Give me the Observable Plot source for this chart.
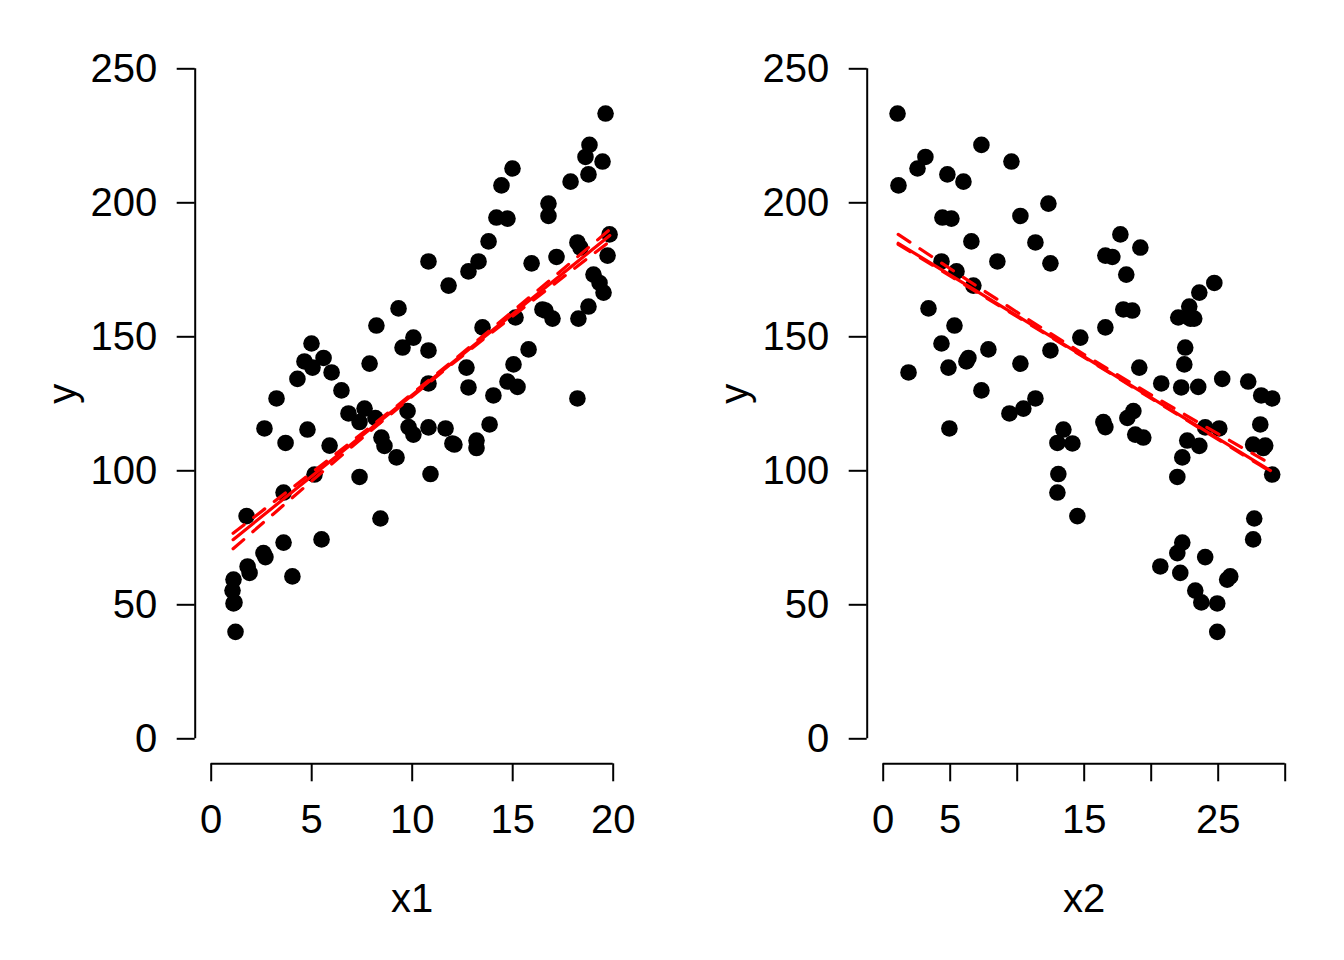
<!DOCTYPE html>
<html><head><meta charset="utf-8">
<script src="https://cdn.jsdelivr.net/npm/d3@7"></script>
<script src="https://cdn.jsdelivr.net/npm/@observablehq/plot@0.6"></script>
<style>
body{margin:0;background:#fff}
#c{display:flex;width:1344px;height:960px;background:#fff}
</style>
</head><body><div id="c"></div>
<script>
const x1 = [19.62,18.82,18.62,19.47,14.99,18.77,17.88,14.44,16.78,16.78,14.19,14.74,19.82,13.80,18.22,18.37,19.72,17.18,10.81,13.30,
  15.94,12.80,19.02,19.32,11.81,19.52,18.77,9.32,16.48,16.63,15.14,18.27,16.98,8.22,13.50,10.06,4.99,9.52,15.79,10.81,
  5.59,4.64,7.88,15.04,5.04,12.70,5.99,4.29,14.74,10.81,15.24,12.80,6.48,14.04,3.25,18.22,7.63,9.77,6.83,8.17,
  7.38,13.85,9.82,10.81,2.65,11.66,4.79,10.06,8.47,13.20,3.70,12.00,12.10,5.89,8.62,13.20,9.22,10.91,5.14,7.38,
  3.60,1.76,8.42,5.49,3.60,2.60,2.70,1.81,1.91,4.04,1.11,1.06,1.16,1.11,1.21];
const x2 = [1.07,7.33,3.15,9.57,2.56,4.79,5.99,1.14,12.33,10.24,4.42,5.09,17.70,6.58,11.36,19.19,16.58,17.10,4.35,8.52,
  12.48,5.47,18.14,24.71,6.73,23.59,22.84,3.38,17.92,18.59,22.02,23.21,22.92,5.32,16.58,14.71,4.35,22.54,7.85,12.48,
  6.36,6.21,10.24,22.47,4.87,19.11,1.89,25.30,27.24,20.75,23.51,22.24,7.33,28.21,11.36,29.03,10.46,18.67,9.42,18.22,
  16.43,28.14,16.58,24.03,4.94,25.08,13.45,18.81,19.41,22.69,13.00,14.12,27.61,28.51,23.59,28.36,22.32,13.07,29.03,21.95,
  13.00,14.49,27.69,27.61,22.32,21.95,24.03,20.68,22.17,25.90,25.67,23.29,23.74,24.93,24.93];
const y = [233.3,221.6,217.1,215.4,212.8,210.6,207.9,206.5,199.7,195.1,194.5,194.1,188.2,185.6,185.2,183.3,180.3,179.8,178.1,178.1,
  177.4,174.4,173.2,170.1,169.1,166.5,161.3,160.6,160.2,159.8,157.2,156.8,156.8,154.2,153.5,149.7,147.5,146.0,145.3,144.9,
  142.1,140.8,140.0,139.7,138.5,138.5,136.7,134.3,133.3,132.6,131.3,131.1,130.0,128.1,127.0,127.0,123.2,122.3,121.4,119.7,
  118.2,117.3,116.3,116.2,115.8,115.8,115.4,113.5,112.4,111.3,110.4,110.2,109.8,109.4,109.3,108.5,105.0,98.8,98.6,97.7,
  91.9,83.1,82.2,74.4,73.2,69.3,67.8,64.3,61.9,60.6,59.4,55.3,50.9,50.5,39.9];

// Fitted lines (solid) and dashed companion lines
const fit1X = [1.09, 19.83], fit1Y = [74.3, 187.8];
const band1X = [1.09, 10.5, 19.83], band1Lo = [70.9, 130.8, 185.6], band1Hi = [76.7, 131.8, 190.0];
const fit2X = [1.12, 28.9], fit2Y = [184.9, 100.1];
const band2X = [1.12, 15.0, 28.9], band2Lo = [184.5, 142.3, 99.7], band2Hi = [188.2, 143.4, 102.6];

// Axis ticks
const yTicks = [0, 50, 100, 150, 200, 250];
const x1Ticks = [0, 5, 10, 15, 20], x1Labels = [0, 5, 10, 15, 20];
const x2Ticks = [0, 5, 10, 15, 20, 25, 30], x2Labels = [0, 5, 15, 25];

const rows = (xs, ys) => xs.map((v, i) => ({x: v, y: ys[i]}));

function panel(xv, xDomain, xTicks, xLabels, xName, fitX, fitY, bX, bLo, bHi) {
  const pts = rows(xv, y);
  const red = "#FF0000";
  return Plot.plot({
    width: 672, height: 960,
    marginLeft: 210.7, marginRight: 59.3, marginTop: 68.3, marginBottom: 221.7,
    style: {fontFamily: "'Liberation Sans', Arial, sans-serif", background: "white", color: "black"},
    x: {domain: xDomain, axis: null},
    y: {domain: [0, 250], axis: null},
    marks: [
      Plot.ruleX([0], {x: xDomain[0], y1: 0, y2: 250, dx: -16, stroke: "black", strokeWidth: 2}),
      Plot.ruleY([0], {y: 0, x1: xDomain[0], x2: xDomain[1], dy: 25, stroke: "black", strokeWidth: 2}),
      Plot.axisY({ticks: yTicks, tickSize: 18, tickPadding: 20, dx: -16, fontSize: 40, strokeWidth: 2,
                  label: null, tickFormat: d => String(d)}),
      Plot.axisX({ticks: xTicks, tickSize: 18, tickPadding: 23, dy: 25, fontSize: 40, strokeWidth: 2,
                  label: null, tickFormat: d => xLabels.includes(d) ? String(d) : ""}),
      Plot.text([xName], {frameAnchor: "bottom", dy: 173, fontSize: 40, fill: "black", text: d => d}),
      Plot.text(["y"], {frameAnchor: "left", dx: -148, rotate: -90, fontSize: 40, fill: "black", text: d => d}),
      Plot.dot(pts, {x: "x", y: "y", r: 8.3, fill: "black", stroke: null}),
      Plot.line(rows(bX, bLo), {x: "x", y: "y", stroke: red, strokeWidth: 3.2, strokeDasharray: "14,12", curve: "natural"}),
      Plot.line(rows(bX, bHi), {x: "x", y: "y", stroke: red, strokeWidth: 3.2, strokeDasharray: "14,12", curve: "natural"}),
      Plot.line(rows(fitX, fitY), {x: "x", y: "y", stroke: red, strokeWidth: 3.2})
    ]
  });
}

const c = document.getElementById("c");
c.appendChild(panel(x1, [0, 20], x1Ticks, x1Labels, "x1", fit1X, fit1Y, band1X, band1Lo, band1Hi));
c.appendChild(panel(x2, [0, 30], x2Ticks, x2Labels, "x2", fit2X, fit2Y, band2X, band2Lo, band2Hi));
</script>
</body></html>
